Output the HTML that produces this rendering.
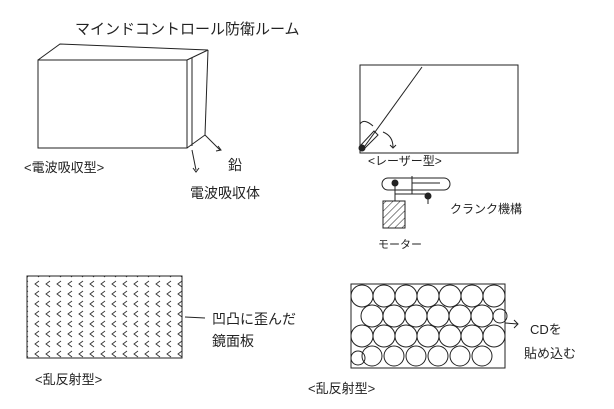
<!DOCTYPE html>
<html><head><meta charset="utf-8"><style>
html,body{margin:0;padding:0;background:#fff;}
svg{display:block;}
text{font-family:"Liberation Sans","Noto Sans CJK JP",sans-serif;fill:#222;}
</style></head><body>
<svg width="614" height="409" viewBox="0 0 614 409" xmlns="http://www.w3.org/2000/svg">
<defs>
<pattern id="hz" width="11" height="10" patternUnits="userSpaceOnUse">
<path d="M6 1 L2 4 L6 7" fill="none" stroke="#333" stroke-width="0.9"/>
</pattern>
<pattern id="hatch" width="5" height="5" patternUnits="userSpaceOnUse" patternTransform="rotate(45)">
<line x1="0" y1="0" x2="0" y2="5" stroke="#222" stroke-width="1"/>
</pattern>
</defs>
<g fill="none" stroke="#222" stroke-width="1">
<!-- box -->
<rect x="38" y="60" width="149" height="88"/>
<polyline points="38,60 60,44 208,50 187,60"/>
<line x1="192" y1="58" x2="192" y2="146"/>
<line x1="208" y1="50" x2="205" y2="135"/>
<line x1="187" y1="148" x2="205" y2="135"/>
<line x1="205" y1="135" x2="220" y2="150"/>
<path d="M218 146 L221 150 L216 151"/>
<line x1="192" y1="150" x2="196" y2="170"/>
<path d="M193 168 L196 172 L199 168"/>
<!-- laser -->
<rect x="360" y="65" width="158" height="88"/>
<line x1="362" y1="150" x2="422" y2="67"/>
<path d="M363 150 L378 135 L374 131 L360 146 Z"/>
<circle cx="362" cy="148" r="3" fill="#222"/>
<path d="M373 126 Q364 118 360 124"/>
<path d="M383 132 Q393 136 393 147"/>
<path d="M390 145 L393 148 L396 145"/>
<!-- crank -->
<rect x="382" y="178" width="68" height="12" rx="6"/>
<line x1="395" y1="183" x2="395" y2="201"/>
<line x1="395" y1="194" x2="428" y2="194"/>
<line x1="412" y1="176" x2="412" y2="194"/>
<line x1="412" y1="183" x2="440" y2="183"/>
<line x1="428" y1="194" x2="428" y2="204"/>
<circle cx="395" cy="183" r="3" fill="#222"/>
<circle cx="428" cy="196" r="3" fill="#222"/>
<rect x="383" y="201" width="22" height="27" fill="url(#hatch)"/>
<!-- bottom left -->
<rect x="27" y="276" width="155" height="82" fill="url(#hz)"/>
<line x1="185" y1="317" x2="205" y2="318"/>
<!-- bottom right -->
<rect x="351" y="284" width="154" height="84"/>
<g>
<circle cx="362" cy="296" r="11"/><circle cx="384" cy="296" r="11"/><circle cx="406" cy="296" r="11"/><circle cx="428" cy="296" r="11"/><circle cx="450" cy="296" r="11"/><circle cx="472" cy="296" r="11"/><circle cx="494" cy="296" r="11"/>
<circle cx="372" cy="316" r="11"/><circle cx="394" cy="316" r="11"/><circle cx="416" cy="316" r="11"/><circle cx="438" cy="316" r="11"/><circle cx="460" cy="316" r="11"/><circle cx="482" cy="316" r="11"/><circle cx="500" cy="316" r="7"/>
<circle cx="362" cy="336" r="11"/><circle cx="384" cy="336" r="11"/><circle cx="406" cy="336" r="11"/><circle cx="428" cy="336" r="11"/><circle cx="450" cy="336" r="11"/><circle cx="472" cy="336" r="11"/><circle cx="494" cy="336" r="11"/>
<circle cx="372" cy="356" r="10"/><circle cx="394" cy="356" r="10"/><circle cx="416" cy="356" r="10"/><circle cx="438" cy="356" r="10"/><circle cx="460" cy="356" r="10"/><circle cx="482" cy="356" r="10"/><circle cx="358" cy="358" r="7"/>
</g>
<line x1="505" y1="323" x2="518" y2="324"/>
<path d="M514 320 L518 324 L514 328"/>
</g>
<text x="75" y="34" font-size="15">マインドコントロール防衛ルーム</text>
<text x="24" y="172" font-size="13">&lt;電波吸収型&gt;</text>
<text x="228" y="170" font-size="14">鉛</text>
<text x="190" y="198" font-size="14">電波吸収体</text>
<text x="368" y="165" font-size="12">&lt;レーザー型&gt;</text>
<text x="450" y="213" font-size="12">クランク機構</text>
<text x="378" y="248" font-size="11">モーター</text>
<text x="212" y="324" font-size="14">凹凸に歪んだ</text>
<text x="212" y="346" font-size="14">鏡面板</text>
<text x="35" y="384" font-size="13">&lt;乱反射型&gt;</text>
<text x="308" y="393" font-size="13">&lt;乱反射型&gt;</text>
<text x="530" y="334" font-size="13">CDを</text>
<text x="524" y="358" font-size="13">貼め込む</text>
</svg>
</body></html>
